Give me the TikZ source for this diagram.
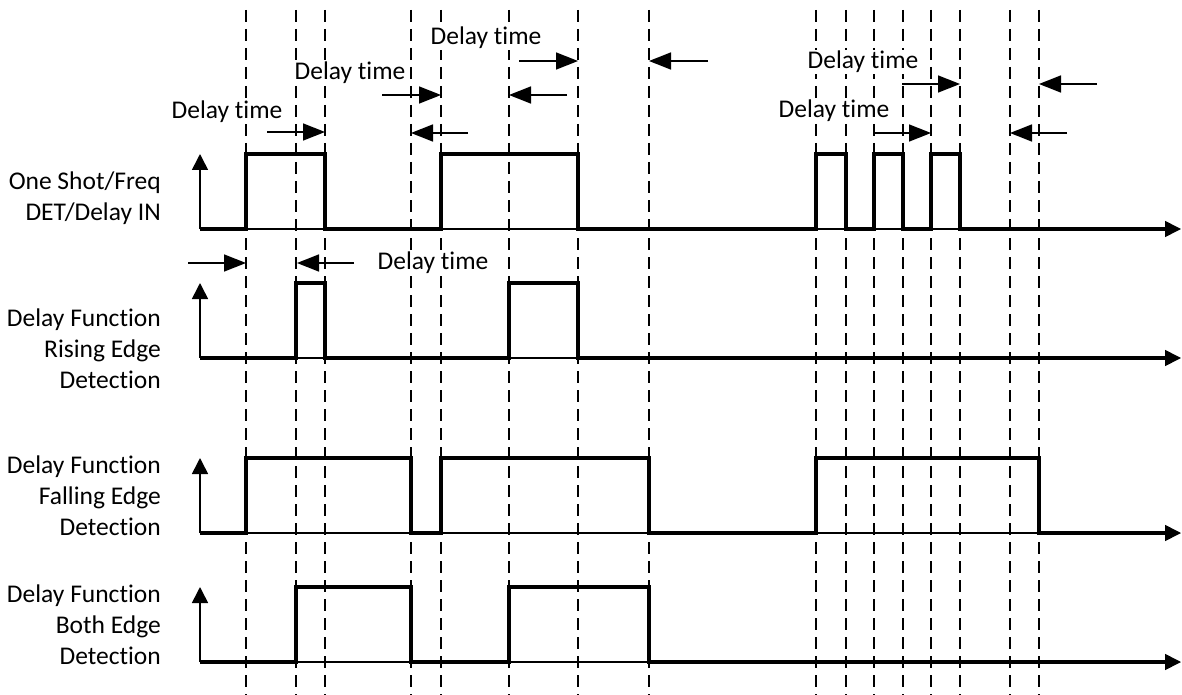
\documentclass[tikz,border=0pt]{standalone}
\usepackage{fontspec}
\setmainfont[Ligatures=NoCommon]{Carlito}
\usetikzlibrary{arrows.meta}
\tikzset{
	wave/.style   ={line width=3.4pt, line join=miter},
	axis/.style   ={line width=1.6pt, -{Triangle[length=16pt, width=16pt]}},
	guide/.style  ={line width=2pt, dash pattern=on 12pt off 7pt},
	dly/.style    ={line width=1.6pt, -{Triangle[length=22pt, width=17pt]}},
	dlbl/.style   ={fill=white, inner sep=1pt},
	rowlbl/.style ={anchor=east, align=right, inner sep=0pt},
}

\begin{document}
\begin{tikzpicture}[x=1pt, y=-1pt, font=\fontsize{25.5}{31}\selectfont]
	\useasboundingbox (0,0) rectangle (1182,695);
	% vertical guides
	\foreach \t in {246,296,325,411,441,509,578,649,816,846,874,903,931,960,1010,1039}
		\draw[guide] (\t,10) -- (\t,695);
	% axes
	\foreach \b in {229,358,533,662} {
		\draw[axis] (200,\b) -- (1181,\b);
		\draw[axis] (200,\b) -- (200,\b-75);
	}
	% signals
	\draw[wave] (200,229) -| (246,154) -| (325,229) -| (441,154) -| (578,229) -| (816,154) -| (846,229)
		-| (874,154) -| (903,229) -| (931,154) -| (960,229) -- (1166,229);
	\draw[wave] (200,358) -| (296,283) -| (325,358) -| (509,283) -| (578,358) -- (1166,358);
	\draw[wave] (200,533) -| (246,458) -| (411,533) -| (441,458) -| (649,533) -| (816,458) -| (1039,533) -- (1166,533);
	\draw[wave] (200,662) -| (296,587) -| (411,662) -| (509,587) -| (649,662) -- (1166,662);
	% row labels
	\node[rowlbl] (inLbl)   at (161,198) {One Shot/Freq\\DET/Delay IN};
	\node[rowlbl] (riseLbl) at (161,349) {Delay Function\\Rising Edge\\Detection};
	\node[rowlbl] (fallLbl) at (161,496) {Delay Function\\Falling Edge\\Detection};
	\node[rowlbl] (bothLbl) at (161,625) {Delay Function\\Both Edge\\Detection};
	% delay time marks
	\node[dlbl] (dtA) at (227,112) {Delay time};
	\draw[dly] (267,132) -- (325,132);
	\node[dlbl] (dtB) at (350,73) {Delay time};
	\draw[dly] (382,95) -- (441,95);
	\draw[dly] (468,133) -- (411,133);
	\node[dlbl] (dtC) at (486,38) {Delay time};
	\draw[dly] (519,61) -- (578,61);
	\draw[dly] (567,95) -- (509,95);
	\draw[dly] (708,61) -- (649,61);
	\node[dlbl] (dtD) at (863,62) {Delay time};
	\draw[dly] (902,84) -- (960,84);
	\draw[dly] (1097,84) -- (1039,84);
	\node[dlbl] (dtE) at (834,111) {Delay time};
	\draw[dly] (874,133) -- (931,133);
	\draw[dly] (1067,133) -- (1010,133);
	\node[dlbl] (dtF) at (433,263) {Delay time};
	\draw[dly] (188,263) -- (246,263);
	\draw[dly] (354,263) -- (297,263);
\end{tikzpicture}
\end{document}
